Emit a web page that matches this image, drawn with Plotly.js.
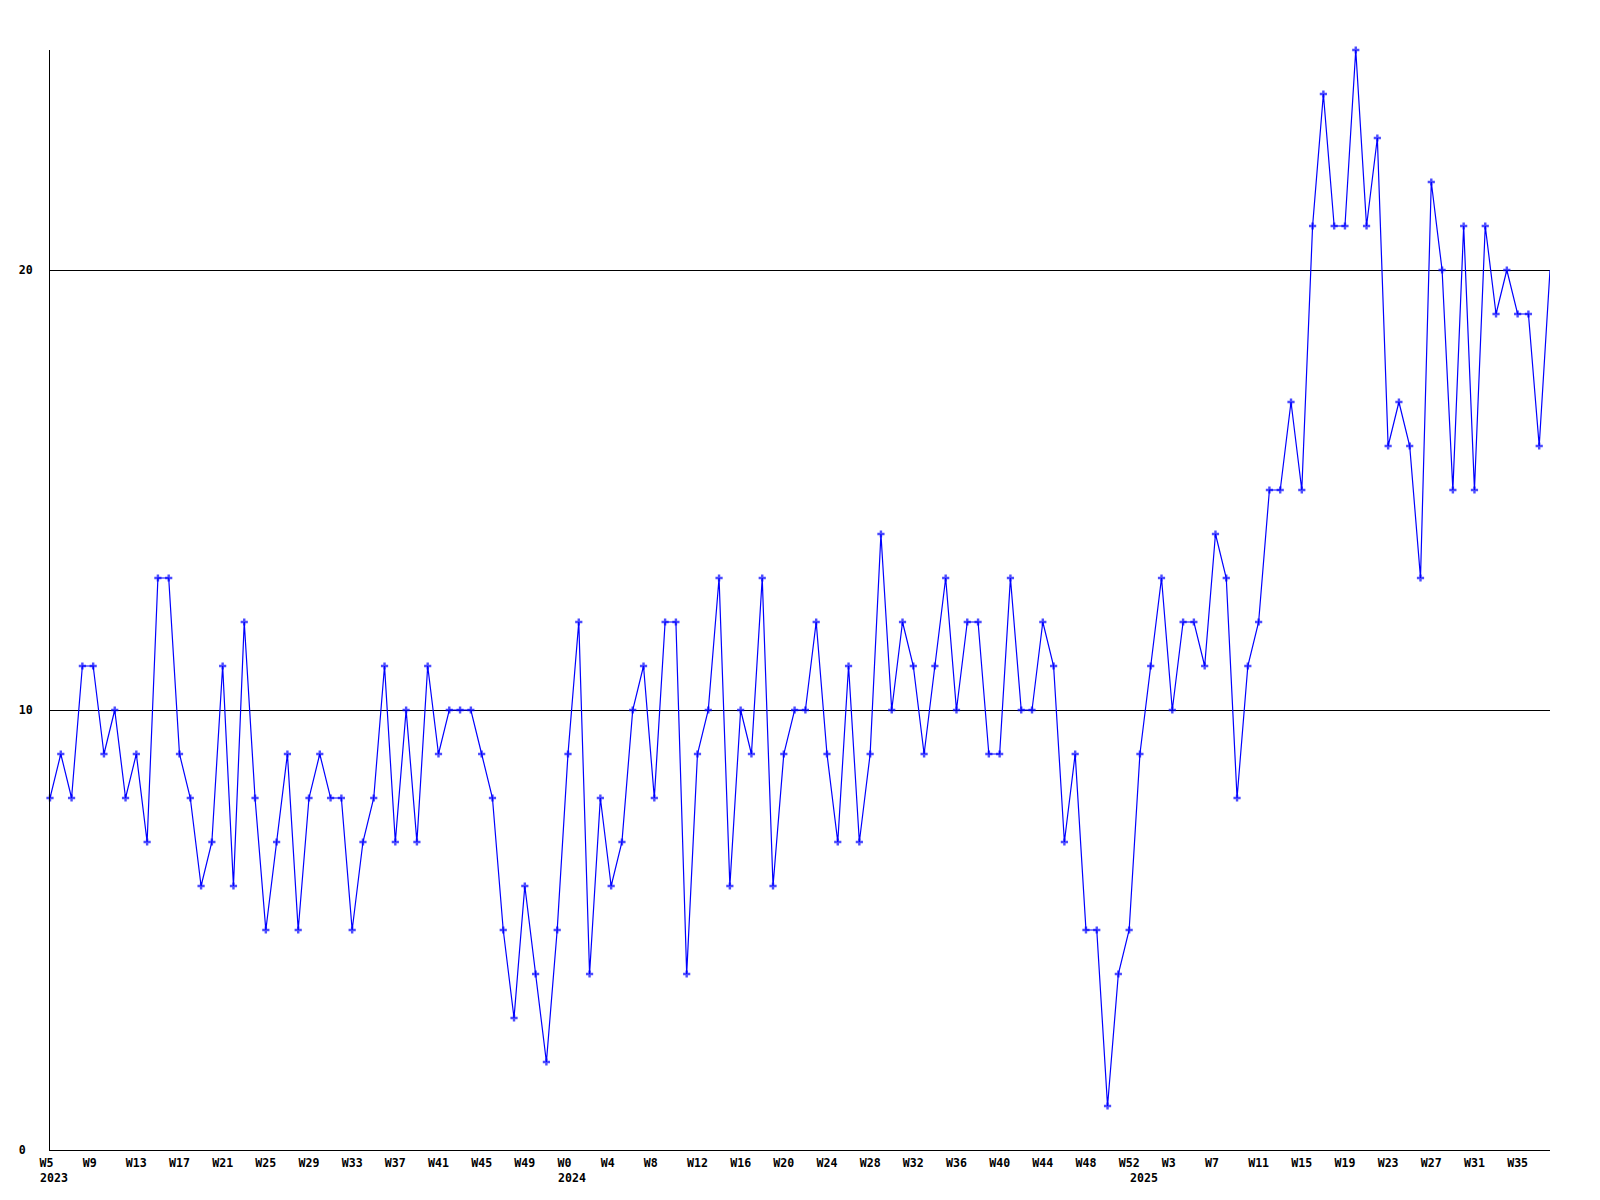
<!DOCTYPE html>
<html>
<head>
<meta charset="utf-8">
<script src="https://cdn.plot.ly/plotly-3.0.1.min.js"></script>
<style>
  html, body { margin: 0; padding: 0; background: #ffffff; }
  #chart { width: 1600px; height: 1200px; }
</style>
</head>
<body>
<div id="chart"></div>
<script>
// ---- Data ----
const years = [2023, 2024, 2025];
const firstWeeks = [5, 0, 0];
const values2023 = [8,9,8,11,11,9,10,8,9,7,13,13,9,8,6,7,11,6,12,8,5,7,9,5,8,9,8,8,5,7,8,11,7,10,7,11,9,10,10,10,9,8,5,3,6,4,2,5];
const values2024 = [9,12,4,8,6,7,10,11,8,12,12,4,9,10,13,6,10,9,13,6,9,10,10,12,9,7,11,7,9,14,10,12,11,9,11,13,10,12,12,9,9,13,10,10,12,11,7,9,5,5,1,4,5];
const values2025 = [9,11,13,10,12,12,11,14,13,8,11,12,15,15,17,15,21,24,21,21,25,21,23,16,17,16,13,22,20,15,21,15,21,19,20,19,19,16,20];
const tickLabels = ["W5","W9","W13","W17","W21","W25","W29","W33","W37","W41","W45","W49",
                    "W0","W4","W8","W12","W16","W20","W24","W28","W32","W36","W40","W44","W48","W52",
                    "W3","W7","W11","W15","W19","W23","W27","W31","W35"];
const yTickValues = [0, 10, 20];
const yTickLabels = ["0", "10", "20"];

// ---- Build categories ----
const seriesByYear = [values2023, values2024, values2025];
const x = [], y = [], yearStarts = [];
seriesByYear.forEach((vals, k) => {
  vals.forEach((v, i) => {
    const cat = years[k] + "-W" + (firstWeeks[k] + i);
    if (i === 0) yearStarts.push(cat);
    x.push(cat);
    y.push(v);
  });
});
const tickVals = [];
for (let i = 0; i < x.length && tickVals.length < tickLabels.length; i += 4) tickVals.push(x[i]);
const NB = "\u00a0";
const tickText = tickLabels.map(t => t.length < 3 ? t + NB.repeat(3 - t.length) : t);
const yText = yTickLabels.map(t => t.length < 2 ? t + NB.repeat(2 - t.length) : t);

const markerSizes = y.map((v, i) => i === y.length - 1 ? 0 : 6);

const font = { family: "DejaVu Sans Mono, Liberation Mono, monospace", size: 11.6, weight: "bold", color: "#000000" };

const trace = {
  type: "scatter",
  mode: "lines+markers",
  x: x,
  y: y,
  cliponaxis: false,
  line: { color: "#0000ff", width: 1.2 },
  marker: { symbol: "cross", size: markerSizes, color: "#0000ff", line: { width: 0 } },
  hoverinfo: "x+y"
};

const annotations = years.map((yr, k) => ({
  text: String(yr),
  xref: "x", yref: "paper",
  x: yearStarts[k], y: 0,
  xanchor: "left", yanchor: "top",
  xshift: -12, yshift: -19,
  showarrow: false,
  font: font
}));

const layout = {
  width: 1600, height: 1200,
  margin: { l: 50, r: 50, t: 50, b: 50, pad: 0 },
  paper_bgcolor: "#ffffff",
  plot_bgcolor: "#ffffff",
  showlegend: false,
  font: font,
  xaxis: {
    type: "category",
    range: [0, x.length - 1],
    tickmode: "array",
    tickvals: tickVals,
    ticktext: tickText,
    tickangle: 0,
    ticks: "",
    showgrid: false,
    zeroline: false,
    showline: true,
    linecolor: "#000000",
    linewidth: 1,
    tickfont: font,
    ticklabelstandoff: 2,
    fixedrange: true
  },
  yaxis: {
    range: [0, 25],
    tickmode: "array",
    tickvals: yTickValues,
    ticktext: yText,
    ticks: "",
    showgrid: true,
    gridcolor: "#000000",
    gridwidth: 1,
    zeroline: false,
    showline: true,
    linecolor: "#000000",
    linewidth: 1,
    tickfont: font,
    ticklabelstandoff: 14,
    fixedrange: true
  },
  annotations: annotations
};

Plotly.newPlot("chart", [trace], layout, { displayModeBar: false, staticPlot: true });
</script>
</body>
</html>
